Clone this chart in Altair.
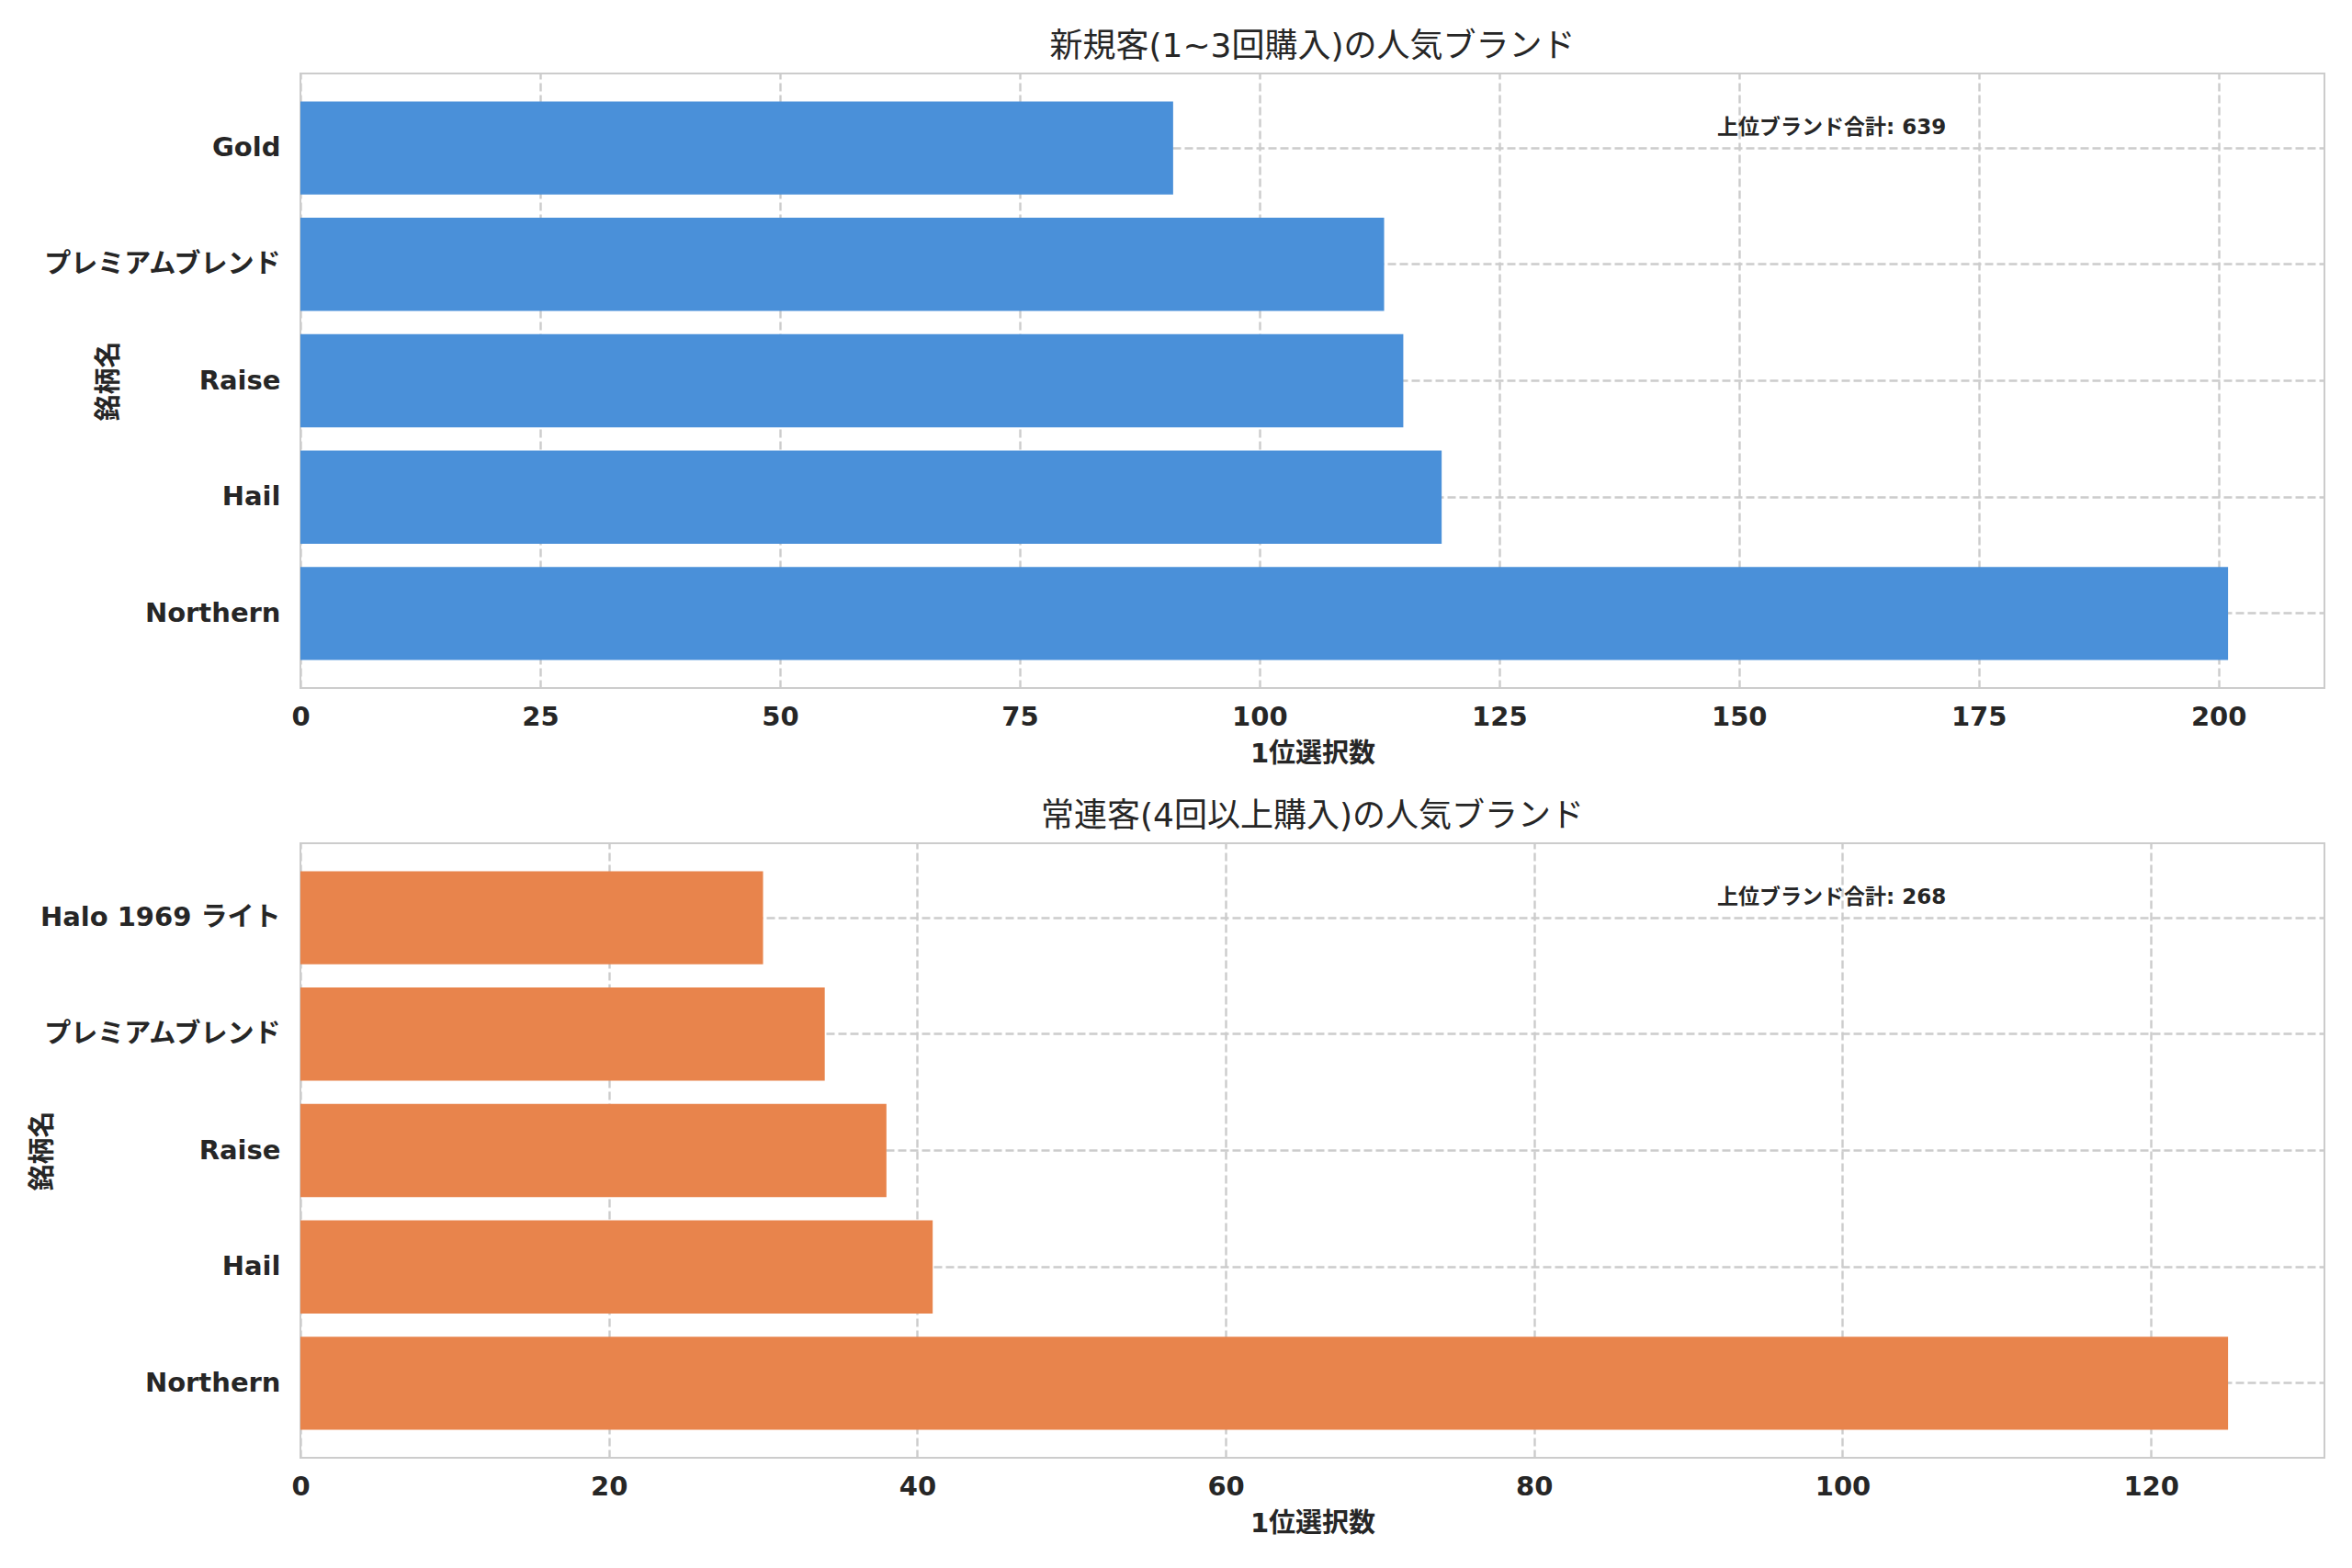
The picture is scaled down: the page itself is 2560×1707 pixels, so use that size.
import altair as alt
import pandas as pd

FONT = "DejaVu Sans, Noto Sans CJK JP"
INK = "#262626"

# --- data ---
brands_new = ["Gold", "プレミアムブレンド", "Raise", "Hail", "Northern"]
counts_new = [91, 113, 115, 119, 201]

brands_repeat = ["Halo 1969 ライト", "プレミアムブレンド", "Raise", "Hail", "Northern"]
counts_repeat = [30, 34, 38, 41, 125]

title_new = "新規客(1~3回購入)の人気ブランド"
title_repeat = "常連客(4回以上購入)の人気ブランド"
x_title = "1位選択数"
y_title = "銘柄名"
total_label = "上位ブランド合計"


def panel(brands, counts, color, title, tick_step, y_title_x):
    xmax = max(counts) * 1.05
    x_scale = alt.Scale(domain=[0, xmax], nice=False, zero=True)
    x_axis = alt.Axis(values=list(range(0, int(xmax) + 1, tick_step)),
                      labelPadding=17, titlePadding=11, labelFlush=False)
    df = pd.DataFrame({"brand": brands, "count": counts})

    bars = alt.Chart(df).mark_bar(color=color).encode(
        x=alt.X("count:Q", scale=x_scale, title=x_title, axis=x_axis),
        y=alt.Y("brand:N", sort=brands, title=y_title,
                scale=alt.Scale(paddingInner=0.2, paddingOuter=0.24),
                axis=alt.Axis(labelPadding=22, bandPosition=0.5, labelLimit=600,
                              titleX=y_title_x)),
    )

    note_df = pd.DataFrame({"x": [0.7 * xmax], "label": [f"{total_label}: {sum(counts)}"]})
    note = alt.Chart(note_df).mark_text(
        align="left", baseline="middle", font=FONT, fontSize=23,
        fontWeight="bold", color=INK
    ).encode(
        x=alt.X("x:Q", scale=x_scale, title=x_title, axis=x_axis),
        y=alt.value(59),
        text="label:N",
    )

    return alt.layer(bars, note).properties(
        width=2203, height=669,
        title=alt.TitleParams(title, fontSize=36, font=FONT, fontWeight="normal",
                              color=INK, offset=10),
    )


top = panel(brands_new, counts_new, "#4A90D9", title_new, 25, -194)
bottom = panel(brands_repeat, counts_repeat, "#E8844C", title_repeat, 20, -266)

chart = alt.vconcat(top, bottom, spacing=34).properties(
    padding={"top": 24, "left": 23, "right": 5, "bottom": 5}
).configure_view(
    stroke="#cccccc", strokeWidth=2
).configure_axis(
    domain=False, ticks=False, grid=True,
    gridColor="#cccccc", gridDash=[9, 4], gridWidth=2.4,
    labelFont=FONT, labelFontSize=29, labelFontWeight="bold", labelColor=INK,
    titleFont=FONT, titleFontSize=29, titleFontWeight="bold", titleColor=INK,
)

chart.save("out.html", embed_options={"renderer": "svg", "actions": False})
